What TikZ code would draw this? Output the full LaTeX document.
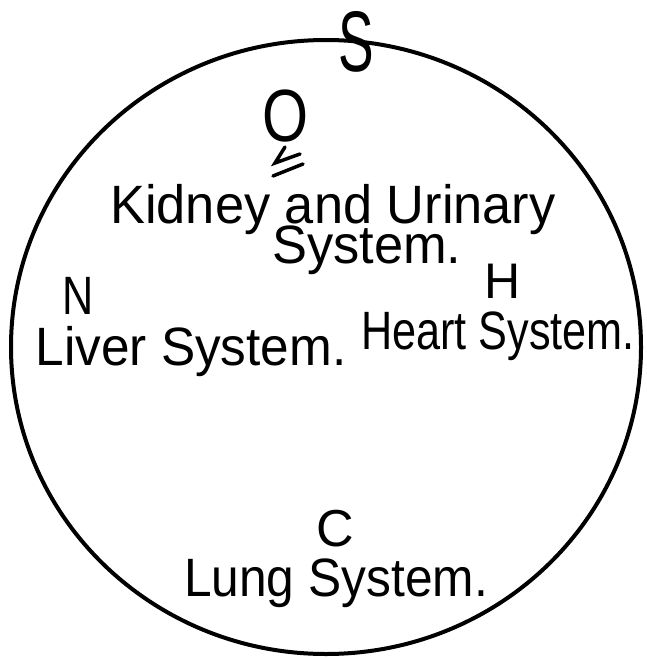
\documentclass[tikz,border=0pt]{standalone}
\usepackage{fontspec}
\setmainfont{Liberation Sans}
\usepackage{tikz}
\usetikzlibrary{positioning}

\begin{document}
\begin{tikzpicture}[x=1pt, y=-1pt,
    sysname/.style={inner sep=0pt, anchor=base, font=\fontsize{54}{37}\selectfont},
    letter/.style={inner sep=0pt, anchor=center}]
      \useasboundingbox (0,0) rectangle (647,658);

      % Outer ring
      \draw[line width=4pt] (326,347) ellipse [x radius=315, y radius=307];

      % Letters
      \node[letter, font=\fontsize{86}{86}\selectfont, xscale=0.62] (s) at (356,42) {S};
      \node[letter, font=\fontsize{74}{74}\selectfont, xscale=0.8] (o) at (286,116) {O};
      \node[letter, font=\fontsize{54}{54}\selectfont, xscale=0.8] (n) at (78,296) {N};
      \node[letter, font=\fontsize{50}{50}\selectfont] (h) at (503,281) {H};
      \node[letter, font=\fontsize{52}{52}\selectfont] (c) at (335,529) {C};

      % Flourish under the O
      \draw[line width=3.5pt, line cap=round] (285,147) -- (275,163) -- (300,154);
      \draw[line width=3.5pt, line cap=round] (273,176) -- (303,164);

      % Systems
      \node[sysname, anchor=north, align=center, xscale=0.97] (kidney) at (333,184)
        {Kidney and Urinary\\[-10pt]\hspace*{70pt}System.};
      \node[sysname, xscale=0.95] (liver) at (191,365) {Liver System.};
      \node[sysname, xscale=0.8] (heart) at (498,349) {Heart System.};
      \node[sysname, xscale=0.92] (lung) at (336,596) {Lung System.};
    \end{tikzpicture}
\end{document}
